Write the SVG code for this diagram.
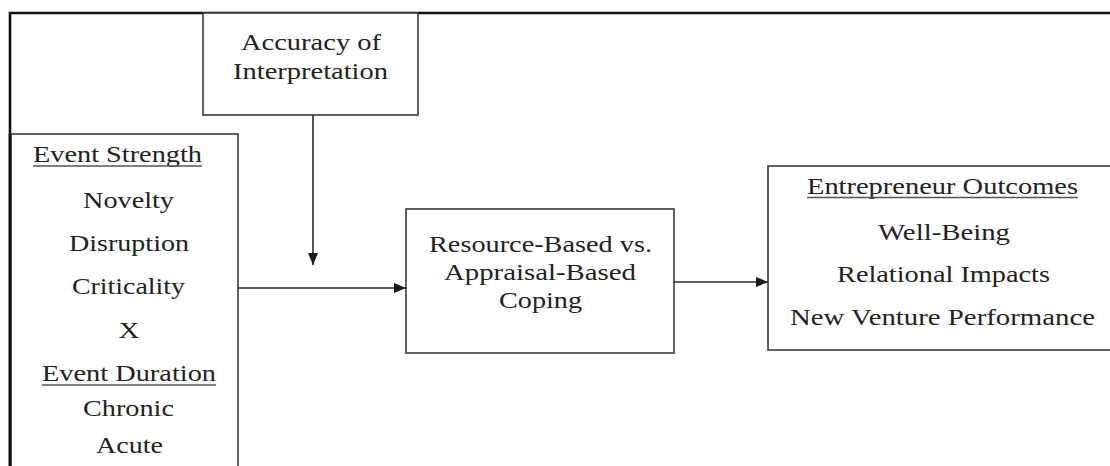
<svg xmlns="http://www.w3.org/2000/svg" width="1110" height="466" viewBox="0 0 1110 466">
  <style>
    .box { fill: #ffffff; stroke: #3a3a3a; stroke-width: 1.6; }
    .frame { fill: none; stroke: #111111; stroke-width: 2.6; }
    .lbl { font-family: "Liberation Serif", "Times New Roman", serif; font-size: 23px; fill: #222222; text-anchor: middle; }
    .ul { stroke: #555555; stroke-width: 1.6; }
    .conn { fill: none; stroke: #2a2a2a; stroke-width: 1.6; }
  </style>
  <defs>
    <marker id="arrow" markerWidth="12" markerHeight="10" refX="12" refY="5" orient="auto" markerUnits="userSpaceOnUse">
      <path d="M0,0 L12,5 L0,10 Z" fill="#1a1a1a"/>
    </marker>
  </defs>
  <rect width="1110" height="466" fill="#ffffff"/>

  <!-- outer frame lines (top and left) -->
  <path class="frame" d="M10,470 L10,13 L1112,13"/>

  <g id="accuracy">
    <rect class="box" x="203" y="13" width="215" height="102"/>
    <text class="lbl" x="311" y="50" textLength="140" lengthAdjust="spacingAndGlyphs">Accuracy of</text>
    <text class="lbl" x="310.5" y="79" textLength="155" lengthAdjust="spacingAndGlyphs">Interpretation</text>
  </g>

  <g id="event">
    <rect class="box" x="11" y="134" width="227" height="340"/>
    <path class="frame" d="M10,134 L10,470"/>
    <text class="lbl" x="117.5" y="162" textLength="169" lengthAdjust="spacingAndGlyphs">Event Strength</text>
    <line class="ul" x1="33" y1="166" x2="202" y2="166"/>
    <text class="lbl" x="128.5" y="208" textLength="91" lengthAdjust="spacingAndGlyphs">Novelty</text>
    <text class="lbl" x="129" y="251" textLength="120" lengthAdjust="spacingAndGlyphs">Disruption</text>
    <text class="lbl" x="128.5" y="294" textLength="113" lengthAdjust="spacingAndGlyphs">Criticality</text>
    <text class="lbl" x="129" y="338" textLength="21" lengthAdjust="spacingAndGlyphs">X</text>
    <text class="lbl" x="129" y="381" textLength="174" lengthAdjust="spacingAndGlyphs">Event Duration</text>
    <line class="ul" x1="42" y1="385" x2="216" y2="385"/>
    <text class="lbl" x="128.5" y="416" textLength="91" lengthAdjust="spacingAndGlyphs">Chronic</text>
    <text class="lbl" x="129.5" y="453" textLength="67" lengthAdjust="spacingAndGlyphs">Acute</text>
  </g>

  <g id="coping">
    <rect class="box" x="406" y="209" width="268" height="144"/>
    <text class="lbl" x="540.5" y="252" textLength="223" lengthAdjust="spacingAndGlyphs">Resource-Based vs.</text>
    <text class="lbl" x="540" y="280" textLength="192" lengthAdjust="spacingAndGlyphs">Appraisal-Based</text>
    <text class="lbl" x="540.5" y="308" textLength="83" lengthAdjust="spacingAndGlyphs">Coping</text>
  </g>

  <g id="outcomes">
    <rect class="box" x="768" y="166" width="350" height="184"/>
    <text class="lbl" x="942.5" y="194" textLength="271" lengthAdjust="spacingAndGlyphs">Entrepreneur Outcomes</text>
    <line class="ul" x1="807" y1="197.5" x2="1078" y2="197.5"/>
    <text class="lbl" x="944" y="240" textLength="132" lengthAdjust="spacingAndGlyphs">Well-Being</text>
    <text class="lbl" x="943.5" y="282" textLength="213" lengthAdjust="spacingAndGlyphs">Relational Impacts</text>
    <text class="lbl" x="942.5" y="325" textLength="305" lengthAdjust="spacingAndGlyphs">New Venture Performance</text>
  </g>

  <g id="connectors">
    <line class="conn" x1="313" y1="115" x2="313" y2="265" marker-end="url(#arrow)"/>
    <line class="conn" x1="238" y1="288" x2="406" y2="288" marker-end="url(#arrow)"/>
    <line class="conn" x1="674" y1="282" x2="768" y2="282" marker-end="url(#arrow)"/>
  </g>
</svg>
